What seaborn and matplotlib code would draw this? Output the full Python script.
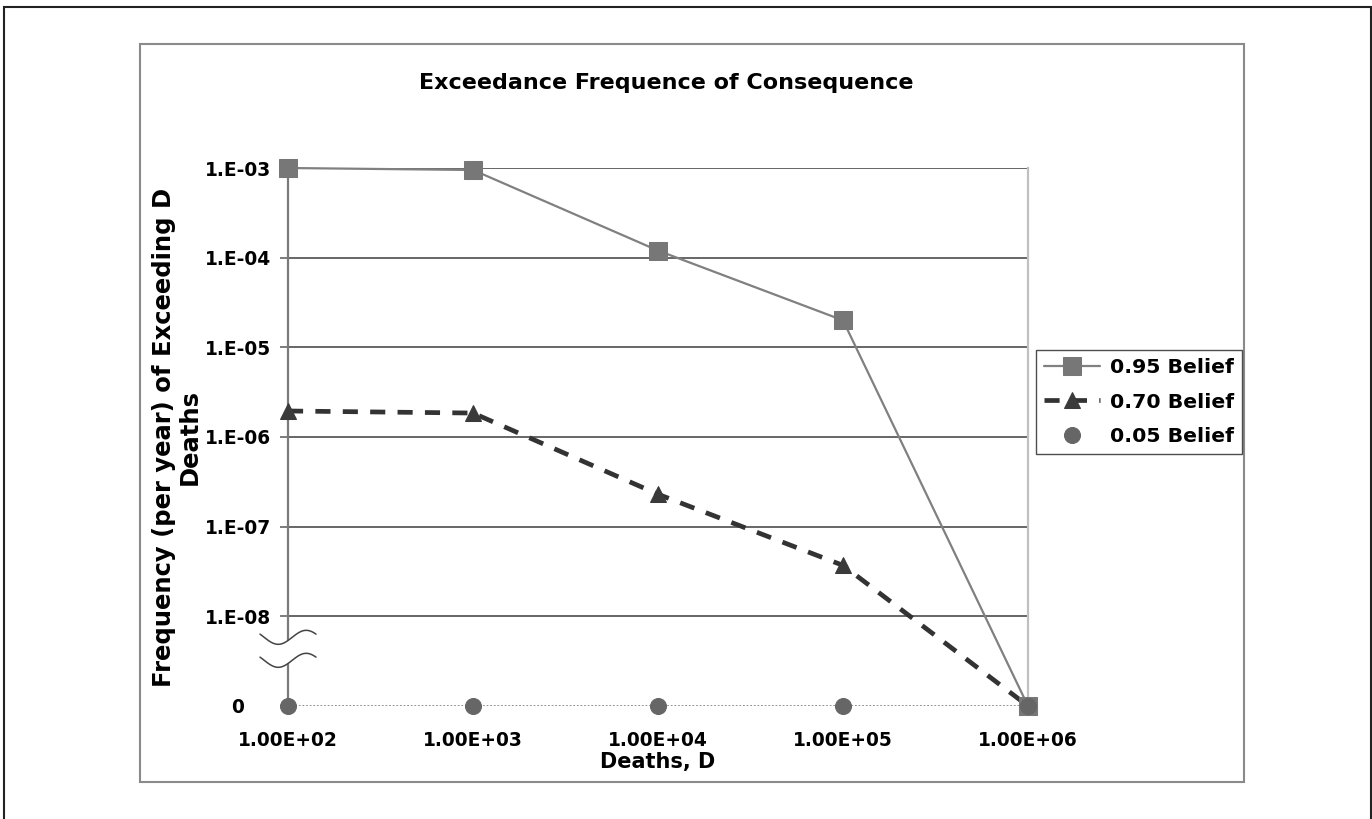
import numpy as np
import pandas as pd
import matplotlib
matplotlib.use("Agg")
import matplotlib.pyplot as plt
from matplotlib.patches import Rectangle, Polygon
from matplotlib.ticker import FixedLocator, FixedFormatter, NullLocator
import seaborn as sns

# Consequence levels (deaths) and exceedance frequencies per belief level
deaths_labels = ["1.00E+02", "1.00E+03", "1.00E+04", "1.00E+05", "1.00E+06"]
belief_095 = [1.0e-3, 9.5e-4, 1.2e-4, 2.0e-5, 0.0]
belief_070 = [1.95e-6, 1.85e-6, 2.3e-7, 3.7e-8, 0.0]
belief_005 = [0.0, 0.0, 0.0, 0.0, 0.0]
series_names = ["0.95 Belief", "0.70 Belief", "0.05 Belief"]

ytick_values = [1e-9, 1e-8, 1e-7, 1e-6, 1e-5, 1e-4, 1e-3]
ytick_labels = ["0    ", "1.E-08", "1.E-07", "1.E-06", "1.E-05", "1.E-04", "1.E-03"]

# zero is shown on the broken log axis one decade below 1E-08
ZERO_POS = 1e-9

sns.set_theme(style="white")
plt.rcParams["font.family"] = ["DejaVu Sans"]
plt.rcParams["font.weight"] = "bold"
plt.rcParams["text.color"] = "black"
plt.rcParams["axes.labelcolor"] = "black"
plt.rcParams["xtick.color"] = "black"
plt.rcParams["ytick.color"] = "black"

W, H = 1372, 819
fig = plt.figure(figsize=(W / 100, H / 100), dpi=100)

def fx(px):
    return px / W

def fy(py):
    return 1 - py / H

# outer frame and chart-area frame
fig.patches.append(Rectangle((fx(4), fy(900)), fx(1367), fy(7) - fy(900),
                             transform=fig.transFigure, fill=False,
                             edgecolor="#222222", linewidth=1.5))
fig.patches.append(Rectangle((fx(140), fy(782)), fx(1244) - fx(140), fy(44) - fy(782),
                             transform=fig.transFigure, fill=False,
                             edgecolor="#8a8a8a", linewidth=1.5))

AX_L, AX_R, AX_T, AX_B = 288, 1028, 168, 706
ax = fig.add_axes([fx(AX_L), fy(AX_B), fx(AX_R) - fx(AX_L), fy(AX_T) - fy(AX_B)])

x = np.arange(len(deaths_labels))
df = pd.DataFrame({
    "pos": np.tile(x, 3),
    "freq": belief_095 + belief_070 + belief_005,
    "series": np.repeat(series_names, len(x)),
})
df["plot_freq"] = df["freq"].where(df["freq"] > 0, ZERO_POS)

ax.set_yscale("log")
ax.set_xlim(0, len(x) - 1)
ax.set_ylim(ZERO_POS, 1e-3)

# horizontal gridlines at each decade
for v in ytick_values[1:]:
    ax.axhline(v, color="#666666", linewidth=1.4, zorder=1)
# dotted zero baseline
ax.axhline(ZERO_POS, color="#8a8a8a", linewidth=1.3, linestyle=(0, (1, 1)), zorder=1)

d = df[df.series == "0.95 Belief"]
sns.lineplot(data=d, x="pos", y="plot_freq", ax=ax, color="#808080", linewidth=1.6,
             marker="s", markersize=12.5, markerfacecolor="#777777",
             markeredgecolor="#777777", label="0.95 Belief", clip_on=False, zorder=4)
d = df[df.series == "0.70 Belief"]
sns.lineplot(data=d, x="pos", y="plot_freq", ax=ax, color="#333333", linewidth=3.4,
             linestyle=(0, (3.2, 2.6)), marker="^", markersize=12,
             markerfacecolor="#3a3a3a", markeredgecolor="#3a3a3a",
             label="0.70 Belief", clip_on=False, zorder=3)
d = df[df.series == "0.05 Belief"]
sns.lineplot(data=d, x="pos", y="plot_freq", ax=ax, color="#666666", linestyle="",
             marker="o", markersize=11.5, markerfacecolor="#666666",
             markeredgecolor="#666666", label="0.05 Belief", clip_on=False, zorder=5)

# axes styling
for side in ["top", "bottom"]:
    ax.spines[side].set_visible(False)
ax.spines["left"].set_color("#7a7a7a")
ax.spines["left"].set_linewidth(1.6)
ax.spines["right"].set_color("#c0c0c0")
ax.spines["right"].set_linewidth(1.6)

ax.yaxis.set_major_locator(FixedLocator(ytick_values))
ax.yaxis.set_major_formatter(FixedFormatter(ytick_labels))
ax.yaxis.set_minor_locator(NullLocator())
ax.tick_params(axis="y", which="major", direction="out", length=6, width=1.2,
               color="#666666", labelcolor="black", labelsize=13.4, pad=6, left=True)
ax.set_xticks(x)
ax.set_xticklabels(deaths_labels)
ax.tick_params(axis="x", length=0, labelsize=13.4, pad=18, labelcolor="black")
for lbl in ax.get_xticklabels() + ax.get_yticklabels():
    lbl.set_fontweight("bold")

ax_w = AX_R - AX_L
ax_h = AX_B - AX_T
ax.set_xlabel("Deaths, D", fontsize=15, fontweight="bold")
ax.xaxis.set_label_coords(0.5, -(752 - AX_B) / ax_h)
ax.set_ylabel("Frequency (per year) of Exceeding D\nDeaths", fontsize=17.5,
              fontweight="bold", linespacing=1.1)
ax.yaxis.set_label_coords((202 - AX_L) / ax_w, 0.5)

fig.text(fx(666), fy(83), "Exceedance Frequence of Consequence", ha="center", va="center",
         fontsize=16, fontweight="bold")

# axis-break marks between 1E-08 and zero
trans = matplotlib.transforms.blended_transform_factory(ax.transAxes, ax.transData)
t = np.linspace(0, 1, 60)
xs = (-28 + 56 * t) / ax_w
dec = 1 / 89.7
wave = -7 * dec * np.sin(2 * np.pi * t - np.pi * 0.15)
c1, c2 = -8.0 - 21 * dec, -8.0 - 44 * dec
for c in (c1, c2):
    ax.plot(xs, 10 ** (c + wave), color="#444444", linewidth=1.1, transform=trans,
            clip_on=False, zorder=6)
poly_x = np.concatenate([xs, xs[::-1]])
poly_y = np.concatenate([10 ** (c1 + wave), (10 ** (c2 + wave))[::-1]])
ax.add_patch(Polygon(np.column_stack([poly_x, poly_y]), closed=True, facecolor="white",
                     edgecolor="none", transform=trans, clip_on=False, zorder=5))

handles, labels = ax.get_legend_handles_labels()
ax.get_legend().remove()
leg = fig.legend(handles, labels, loc="center", bbox_to_anchor=(fx(1139), fy(402)),
                 fancybox=False, frameon=True, edgecolor="#222222", fontsize=14.7,
                 handlelength=2.75, labelspacing=0.75, borderpad=0.42,
                 handletextpad=0.45, borderaxespad=0)
leg.get_frame().set_linewidth(1.0)
for txt in leg.get_texts():
    txt.set_fontweight("bold")

fig.savefig("out.png", dpi=100, facecolor="white")
